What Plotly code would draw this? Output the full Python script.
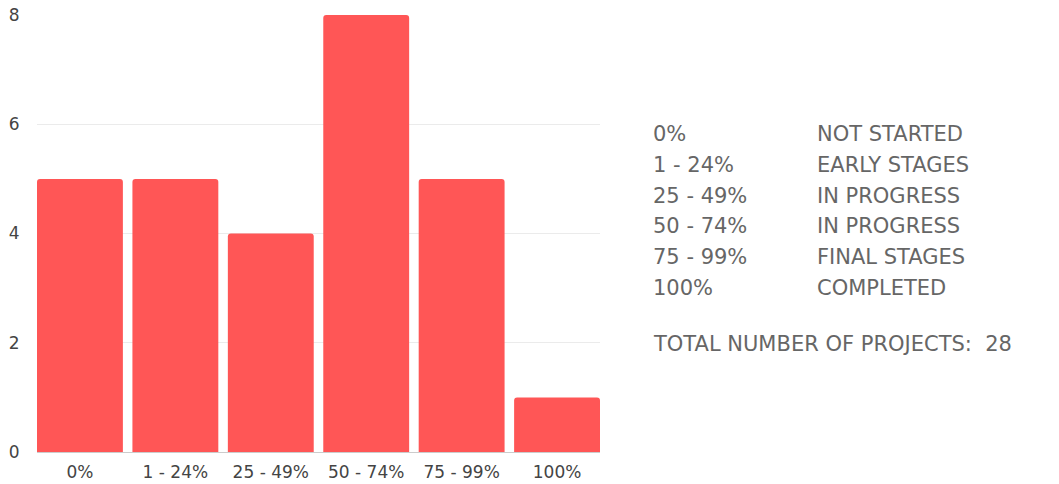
import plotly.graph_objects as go

categories = ["0%", "1 - 24%", "25 - 49%", "50 - 74%", "75 - 99%", "100%"]
counts = [5, 5, 4, 8, 5, 1]
statuses = ["NOT STARTED", "EARLY STAGES", "IN PROGRESS", "IN PROGRESS", "FINAL STAGES", "COMPLETED"]
y_ticks = [0, 2, 4, 6, 8]
total_label = "TOTAL NUMBER OF PROJECTS:"

W, H = 1059, 484
L, R, T, B = 37, 459, 15, 32
pw, ph = W - L - R, H - T - B

def px_x(px):
    return (px - L) / pw

def px_y(py):
    return (H - B - py) / ph

FONT = "DejaVu Sans, Arial, sans-serif"
LEG_SIZE = 21

fig = go.Figure()
fig.add_trace(go.Bar(
    x=categories, y=counts,
    marker=dict(color="#ff5656", cornerradius=3, line=dict(width=0)),
    hoverinfo="x+y",
))

annotations = []
row_y = [134, 164.8, 195.6, 226.4, 257.2, 288]
for cat, st, ry in zip(categories, statuses, row_y):
    annotations.append(dict(x=px_x(651), y=px_y(ry), xref="paper", yref="paper",
                            text=cat, showarrow=False, xanchor="left", yanchor="middle",
                            font=dict(family=FONT, size=LEG_SIZE, color="#666666")))
    annotations.append(dict(x=px_x(815), y=px_y(ry), xref="paper", yref="paper",
                            text=st, showarrow=False, xanchor="left", yanchor="middle",
                            font=dict(family=FONT, size=LEG_SIZE, color="#666666")))
annotations.append(dict(x=px_x(651), y=px_y(344), xref="paper", yref="paper",
                        text=f"{total_label}  {sum(counts)}", showarrow=False,
                        xanchor="left", yanchor="middle",
                        font=dict(family=FONT, size=LEG_SIZE, color="#666666")))

fig.update_layout(
    width=W, height=H,
    margin=dict(l=L, r=R, t=T, b=B, pad=0),
    paper_bgcolor="white", plot_bgcolor="white",
    bargap=0.1,
    showlegend=False,
    font=dict(family=FONT, color="#444444"),
    annotations=annotations,
)
fig.update_xaxes(range=[-0.45, 5.45], automargin=False,
                 showgrid=False, showline=True, linecolor="#cccccc", linewidth=1,
                 tickfont=dict(family=FONT, size=17, color="#444444"),
                 ticks="outside", ticklen=5, tickcolor="rgba(0,0,0,0)", fixedrange=True)
fig.update_yaxes(range=[0, 8], tickvals=y_ticks, automargin=False,
                 showgrid=True, gridcolor="#ebebeb",
                 gridwidth=1, zeroline=False, showline=False,
                 tickfont=dict(family=FONT, size=17, color="#444444"),
                 ticks="outside", ticklen=13, tickcolor="rgba(0,0,0,0)", fixedrange=True)

fig.write_html("out.html", config={"displayModeBar": False},
               post_script="document.body.style.margin='0';document.body.style.overflow='hidden';")
